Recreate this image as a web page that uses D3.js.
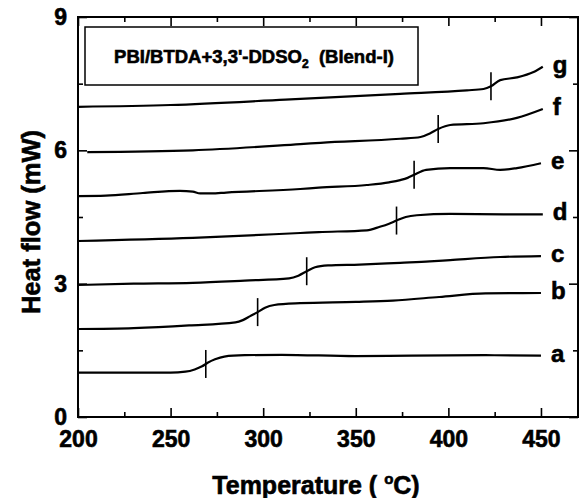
<!DOCTYPE html>
<html>
<head>
<meta charset="utf-8">
<script src="https://cdn.jsdelivr.net/npm/d3@7"></script>
<style>
  html, body { margin: 0; padding: 0; background: #fff; }
  svg { display: block; }
  text { font-family: "Liberation Sans", Arial, Helvetica, sans-serif; font-weight: bold; fill: #000; stroke: #000; stroke-width: 0.6px; }
</style>
</head>
<body>
<svg id="chart" width="582" height="498"></svg>
<script>
// DSC traces (temperature in °C, heat flow in mW), one per blend composition
const seriesNames = ["a", "b", "c", "d", "e", "f", "g"];
const traceA = [[200,1.0],[250,1.0],[258,1.02],[263,1.07],[267,1.14],[270,1.22],[274,1.3],[279,1.36],[290,1.39],[310,1.4],[350,1.37],[380,1.38],[420,1.39],[450,1.38]];
const traceB = [[200,1.98],[230,2.0],[260,2.06],[285,2.13],[289,2.18],[293,2.27],[297,2.36],[301,2.46],[306,2.52],[320,2.56],[350,2.59],[370,2.62],[395,2.7],[420,2.78],[450,2.79]];
const traceC = [[200,2.97],[230,3.0],[262,3.02],[290,3.07],[314,3.12],[319,3.18],[323.5,3.28],[328,3.37],[335,3.41],[352,3.43],[374,3.47],[390,3.5],[401,3.53],[428,3.6],[450,3.62]];
const traceD = [[200,3.96],[262,4.03],[320,4.14],[330,4.16],[356,4.2],[363,4.28],[368,4.35],[372,4.42],[377,4.5],[383,4.54],[401,4.57],[430,4.56],[451,4.56]];
const traceE = [[200,4.97],[215,4.98],[235,5.04],[255,5.09],[262,5.07],[266,5.03],[272,5.03],[280,5.05],[320,5.13],[330,5.16],[356,5.22],[368,5.28],[374,5.33],[378,5.38],[381.5,5.45],[388,5.56],[401,5.6],[419,5.6],[428,5.56],[437,5.6],[450,5.71]];
const traceF = [[205,5.96],[262,6.0],[320,6.14],[331,6.17],[374,6.26],[385,6.3],[390,6.38],[394.5,6.48],[401,6.57],[419,6.61],[437,6.73],[451,6.93]];
const traceG = [[200,6.98],[250,7.02],[312,7.14],[374,7.27],[410,7.35],[419,7.38],[423,7.44],[428,7.58],[437,7.64],[446,7.76],[451,7.88]];
// glass-transition temperatures marked on each trace
const tgValues = [269, 297, 323.5, 372, 381.5, 394.5, 423];

const xMajorTicks = [200, 250, 300, 350, 400, 450];
const xMinorTicks = [225, 275, 325, 375, 425];
const yMajorTicks = [0, 3, 6, 9];
const yMinorTicks = [1.5, 4.5, 7.5];

const legendTitle = "PBI/BTDA+3,3'-DDSO";
const legendSub = "2";
const legendTail = "  (Blend-I)";
const xTitle = "Temperature ( ";
const xTitleSup = "o";
const xTitleEnd = "C)";
const yTitle = "Heat flow (mW)";

const traces = [traceA, traceB, traceC, traceD, traceE, traceF, traceG];

const svg = d3.select("#chart");
const pLeft = 78, pRight = 578, pTop = 17, pBottom = 417;

const x = d3.scaleLinear().domain([200, 470]).range([pLeft, pRight]);
const y = d3.scaleLinear().domain([0, 9]).range([pBottom, pTop]);

// axes: ticks drawn inward on all four sides
function styleAxis(g) {
  g.select(".domain").remove();
  g.selectAll(".tick line").attr("stroke", "#000").attr("stroke-width", 1.6);
  g.selectAll(".tick text").style("font-size", "23px").style("font-family", "'Liberation Sans', Arial, sans-serif").style("font-weight", "bold");
}

svg.append("g").attr("transform", `translate(0,${pBottom})`)
  .call(d3.axisBottom(x).tickValues(xMajorTicks).tickSize(-9).tickSizeOuter(0).tickPadding(14).tickFormat(d3.format("d")))
  .call(styleAxis);
svg.append("g").attr("transform", `translate(0,${pBottom})`)
  .call(d3.axisBottom(x).tickValues(xMinorTicks).tickSize(-5).tickSizeOuter(0).tickFormat(""))
  .call(styleAxis);
svg.append("g").attr("transform", `translate(0,${pTop})`)
  .call(d3.axisTop(x).tickValues(xMajorTicks).tickSize(-9).tickSizeOuter(0).tickFormat(""))
  .call(styleAxis);
svg.append("g").attr("transform", `translate(0,${pTop})`)
  .call(d3.axisTop(x).tickValues(xMinorTicks).tickSize(-5).tickSizeOuter(0).tickFormat(""))
  .call(styleAxis);

svg.append("g").attr("transform", `translate(${pLeft},0)`)
  .call(d3.axisLeft(y).tickValues(yMajorTicks).tickSize(-9).tickSizeOuter(0).tickPadding(11).tickFormat(d3.format("d")))
  .call(styleAxis);
svg.append("g").attr("transform", `translate(${pLeft},0)`)
  .call(d3.axisLeft(y).tickValues(yMinorTicks).tickSize(-5).tickSizeOuter(0).tickFormat(""))
  .call(styleAxis);
svg.append("g").attr("transform", `translate(${pRight},0)`)
  .call(d3.axisRight(y).tickValues(yMajorTicks).tickSize(-9).tickSizeOuter(0).tickFormat(""))
  .call(styleAxis);
svg.append("g").attr("transform", `translate(${pRight},0)`)
  .call(d3.axisRight(y).tickValues(yMinorTicks).tickSize(-5).tickSizeOuter(0).tickFormat(""))
  .call(styleAxis);

// plot frame
svg.append("rect")
  .attr("x", pLeft).attr("y", pTop)
  .attr("width", pRight - pLeft).attr("height", pBottom - pTop)
  .attr("fill", "none").attr("stroke", "#000").attr("stroke-width", 2);

// traces
const line = d3.line()
  .x(d => x(d[0]))
  .y(d => y(d[1]))
  .curve(d3.curveMonotoneX);

svg.append("g").selectAll("path")
  .data(traces)
  .join("path")
  .attr("d", line)
  .attr("fill", "none")
  .attr("stroke", "#000")
  .attr("stroke-width", 2.2)
  .attr("stroke-linejoin", "round");

// Tg markers: short vertical bars crossing each trace
function valueAt(trace, t) {
  const i = d3.bisector(d => d[0]).left(trace, t);
  if (i <= 0) return trace[0][1];
  if (i >= trace.length) return trace[trace.length - 1][1];
  const a = trace[i - 1], b = trace[i];
  return a[1] + (b[1] - a[1]) * (t - a[0]) / (b[0] - a[0]);
}
svg.append("g").selectAll("line")
  .data(tgValues.map((t, i) => [t, valueAt(traces[i], t)]))
  .join("line")
  .attr("x1", d => x(d[0])).attr("x2", d => x(d[0]))
  .attr("y1", d => y(d[1]) - 14).attr("y2", d => y(d[1]) + 14)
  .attr("stroke", "#000").attr("stroke-width", 1.6);

// trace letters at the right end of each curve
svg.append("g").selectAll("text")
  .data(traces.map((tr, i) => ({ name: seriesNames[i], last: tr[tr.length - 1] })))
  .join("text")
  .attr("x", d => x(d.last[0]) + 10)
  .attr("y", d => y(d.last[1]) + 6)
  .style("font-size", "24px")
  .text(d => d.name);

// legend box
svg.append("rect")
  .attr("x", 85).attr("y", 27).attr("width", 333).attr("height", 58)
  .attr("fill", "#fff").attr("stroke", "#000").attr("stroke-width", 1.5);
const lt = svg.append("text")
  .attr("x", 254).attr("y", 63)
  .attr("text-anchor", "middle")
  .style("font-size", "18.5px")
  .style("white-space", "pre");
lt.append("tspan").text(legendTitle);
lt.append("tspan").attr("dy", 5).style("font-size", "12px").text(legendSub);
lt.append("tspan").attr("dy", -5).text(legendTail);

// axis titles
const xt = svg.append("text")
  .attr("x", 316).attr("y", 494)
  .attr("text-anchor", "middle")
  .style("font-size", "25px")
  .style("white-space", "pre");
xt.append("tspan").text(xTitle);
xt.append("tspan").attr("dy", -10).style("font-size", "15px").text(xTitleSup);
xt.append("tspan").attr("dy", 10).text(xTitleEnd);

svg.append("text")
  .attr("transform", `translate(40,${(pTop + pBottom) / 2 + 5}) rotate(-90)`)
  .attr("text-anchor", "middle")
  .style("font-size", "25.5px")
  .text(yTitle);
</script>
</body>
</html>
